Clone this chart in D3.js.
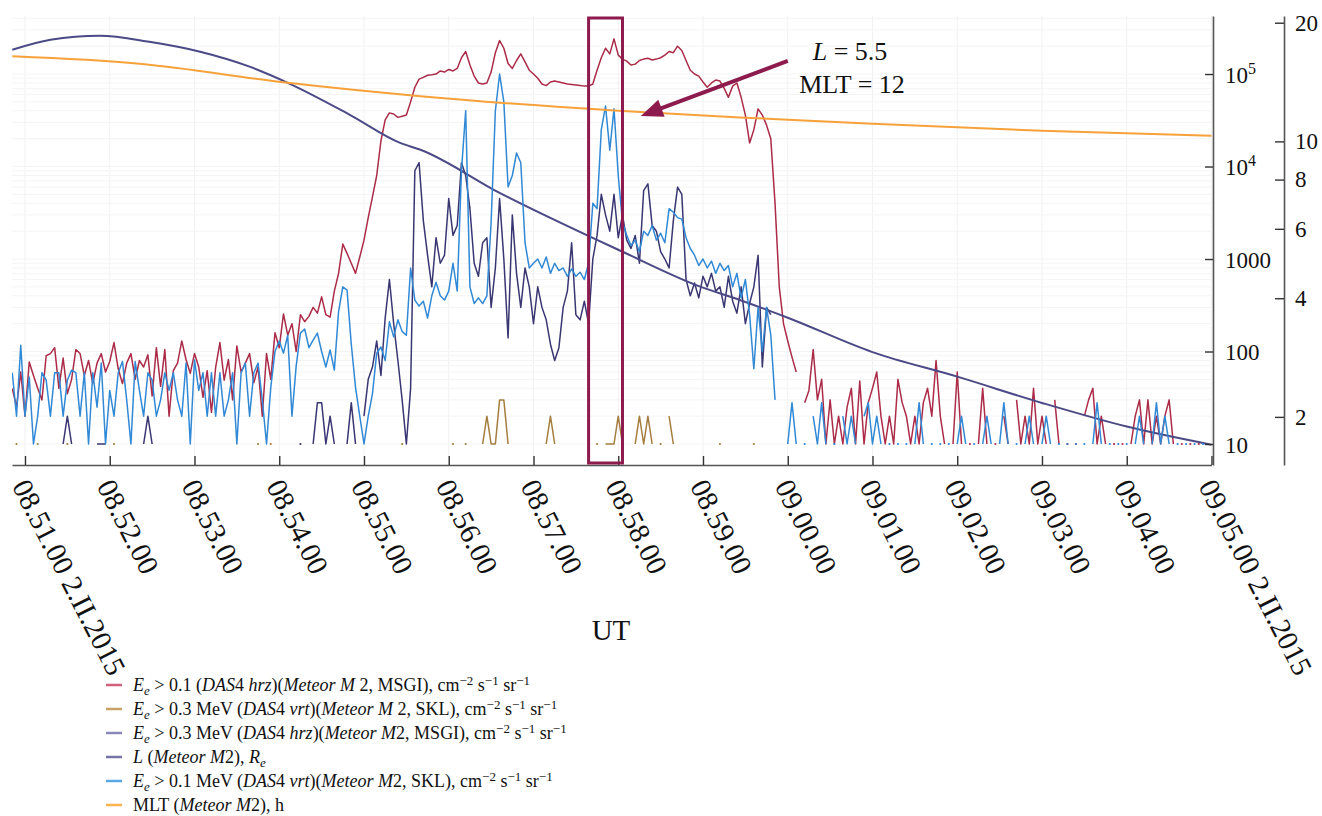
<!DOCTYPE html>
<html><head><meta charset="utf-8">
<script src="https://cdn.jsdelivr.net/npm/d3@7"></script>
<style>
body{margin:0;background:#fff}
svg{display:block}
text{font-family:"Liberation Serif","Times New Roman",serif;fill:#111}
</style>
</head><body><svg id="c" width="1322" height="816"></svg>
<script>
// time axis: seconds relative to 08:51:00 UT, 2.II.2015; samples every 3 s starting at -9 s
const T0 = -9, STEP = 3;

// Ee > 0.1 (DAS4 hrz)(Meteor M2, MSGI), cm-2 s-1 sr-1   (0 = no data / zero count)
const red = [
40,25,60,20,77,55,40,30,90,95,
110,40,85,35,50,105,95,55,80,45,
75,95,60,78,125,65,45,75,95,50,
80,68,92,33,110,42,105,20,62,75,
130,82,58,95,68,32,62,22,68,125,
49,82,30,115,60,75,95,46,68,20,
95,50,160,110,255,150,200,100,250,210,
240,300,260,390,250,235,450,700,1450,1150,
900,700,1050,1600,2800,4700,8000,19000,32000,38000,
37000,34000,35000,36000,50000,72000,88000,92000,97000,98000,
100000,108000,105000,112000,108000,115000,150000,175000,125000,95000,
80000,78000,80000,105000,170000,230000,190000,130000,115000,140000,
165000,135000,110000,100000,90000,78000,75000,82000,84000,82000,
80000,78000,77000,76000,75000,74000,74000,78000,110000,150000,
190000,165000,240000,160000,145000,138000,125000,128000,140000,145000,
148000,142000,145000,150000,160000,175000,170000,200000,180000,140000,
110000,100000,95000,82000,72000,80000,86000,84000,70000,56000,
74000,80000,56000,36000,18000,25000,42000,36000,28000,20000,
4000,500,200,130,87,60,0,28,38,105,
30,50,10,30,10,20,10,25,40,10,
48,10,28,40,60,20,10,20,10,50,
28,20,10,20,10,28,40,20,80,20,
10,0,10,60,10,0,10,0,10,40,
10,0,10,0,20,10,0,30,10,20,
10,40,10,20,10,0,30,10,0,10,
0,10,0,20,30,40,10,20,10,0,
10,0,10,0,10,20,30,10,30,10,
20,10,20,30,10,0,10,0,10,0,
10,0,10,0];

// Ee > 0.3 MeV (DAS4 vrt)(Meteor M2, SKL)
const brown = [
0,10,0,0,0,0,10,0,0,0,
0,0,0,10,0,0,0,0,0,0,
0,0,0,0,10,0,0,0,0,0,
0,0,0,0,0,0,0,0,0,0,
0,0,0,0,0,0,0,0,0,0,
0,0,0,0,0,0,0,0,10,0,
0,10,0,0,0,0,0,0,0,0,
0,0,0,0,0,0,0,0,0,0,
0,0,0,0,0,0,0,0,0,0,
0,0,10,0,0,0,0,0,0,0,
0,0,0,0,10,0,0,10,0,0,
0,10,20,10,10,30,30,10,0,0,
0,0,0,0,0,0,10,20,10,0,
0,0,0,0,0,0,0,0,10,0,
10,10,10,20,10,0,0,10,20,10,
20,10,0,10,0,20,10,0,0,0,
0,0,0,0,0,0,0,10,0,0,
0,0,0,0,0,10];

// Ee > 0.3 MeV (DAS4 hrz)(Meteor M2, MSGI)
const navy = [
0,0,0,0,0,0,0,0,0,0,
0,0,10,20,10,0,0,0,0,0,
10,10,10,0,0,0,0,0,0,0,
0,10,20,10,0,0,0,0,0,0,
0,0,0,0,0,0,0,0,0,0,
0,0,0,0,0,0,0,0,0,0,
0,0,0,0,0,0,0,0,10,0,
0,10,28,28,10,20,10,0,0,10,
28,10,0,20,50,68,130,55,230,600,
200,80,30,10,40,9000,11000,2600,1100,500,
1700,900,1100,4500,1800,2300,11000,8000,3500,900,
650,1500,1700,300,800,4500,1000,140,3000,700,
300,800,500,200,500,300,220,120,80,110,
300,450,1500,250,220,350,200,1000,1800,5000,
3000,2000,5000,1700,3000,1600,1300,1800,900,5500,
6500,2300,2000,1200,1000,800,2600,6000,5000,600,
400,550,380,650,500,700,450,500,300,650,
350,260,500,200,330,500,1100,68,300,250];

// Ee > 0.1 MeV (DAS4 vrt)(Meteor M2, SKL)
const blue = [
59,20,117,20,53,10,20,59,49,20,
59,59,20,49,63,59,20,59,10,59,
25,75,10,38,20,59,78,30,10,78,
38,20,59,49,20,30,59,38,59,30,
20,75,10,81,38,59,20,59,20,59,
20,30,59,10,59,75,20,59,75,30,
10,41,100,130,96,150,20,70,158,175,
110,133,158,100,68,104,63,270,500,460,
120,41,20,10,20,35,96,112,80,210,
144,220,165,150,800,360,310,350,230,400,
560,400,360,450,900,450,9000,40000,500,330,
380,330,400,2500,40000,100000,50000,6000,8000,14000,
11000,1500,800,900,1000,800,1050,700,900,750,
800,650,780,650,720,600,900,4000,3500,25000,
45000,15000,42000,8000,2500,1800,1400,1600,1200,2000,
1800,2300,1600,1900,1500,3500,3200,2800,2700,1700,
1300,1100,850,1000,800,950,700,900,750,850,
500,700,380,600,250,65,300,100,300,150,
30,0,0,10,28,10,0,10,0,20,
10,28,10,0,10,0,20,10,20,10,
0,20,28,10,20,10,0,10,0,10,
0,10,0,10,28,10,0,10,0,10,
0,10,0,10,20,10,0,10,0,10,
20,10,0,10,28,10,0,10,0,10,
20,10,0,10,20,10,0,10,0,10,
0,10,0,10,0,10,28,10,0,10,
0,10,0,10,0,10,20,10,0,10,
28,10,20,10,0,10,0,10,0,10,
0,10,0,0];

// L (Meteor M2), Re
const lSec = [-9,18,53,88,124,159,186,230,266,280,336,400,420,478,506,540,600,660,720,780,840];
const lVal = [17.08,18.11,18.54,17.89,16.88,15.47,14.08,11.68,9.9,9.52,7.40,5.73,5.31,4.28,3.96,3.57,2.92,2.53,2.17,1.89,1.70];

// MLT (Meteor M2), h
const mltSec = [-9,81,186,280,420,506,600,720,840];
const mltVal = [16.43,15.74,14.08,13.02,11.96,11.5,11.08,10.64,10.33];

const xTickSec = [0,60,120,180,240,300,360,420,480,540,600,660,720,780,840];
const xTickLabels = ["08.51.00 2.II.2015","08.52.00","08.53.00","08.54.00","08.55.00","08.56.00","08.57.00",
  "08.58.00","08.59.00","09.00.00","09.01.00","09.02.00","09.03.00","09.04.00","09.05.00 2.II.2015"];
const countTicks = [10,100,1000,1e4,1e5];
const lTicks = [2,4,6,8,10,20];
const markSec = [399,423];          // highlighted interval
const arrowFrom = [540,16.0], arrowTo = [436,11.6];   // (s, L/MLT units)

const svg = d3.select("#c");
const x = d3.scaleLinear().domain([-9.2,840]).range([12,1211.5]);
const yC = d3.scaleLog().domain([5.93,4.24e5]).range([465,16]);
const yL = d3.scaleLog().domain([1.51,20.8]).range([465,16]);

// faint grid
const grid = svg.append("g");
grid.selectAll("line.v").data(xTickSec).join("line")
  .attr("x1",d=>x(d)).attr("x2",d=>x(d)).attr("y1",16).attr("y2",465)
  .attr("stroke","#f1f1f1").attr("stroke-width",1);
grid.selectAll("line.h").data(yC.ticks().filter(v=>v>=10)).join("line")
  .attr("x1",12).attr("x2",1212).attr("y1",d=>yC(d)).attr("y2",d=>yC(d))
  .attr("stroke","#f4f4f4").attr("stroke-width",1);

svg.append("defs").append("clipPath").attr("id","clip")
  .append("rect").attr("x",12).attr("y",14).attr("width",1201).attr("height",452);

const plot = svg.append("g").attr("clip-path","url(#clip)");
const line = d3.line().defined(d=>d.v>0).x(d=>x(d.t)).y(d=>yC(d.v));
function drawSeries(arr,color,w){
  const pts = arr.map((v,i)=>({t:T0+STEP*i,v}));
  plot.append("path").datum(pts).attr("d",line).attr("fill","none")
    .attr("stroke",color).attr("stroke-width",w).attr("stroke-linejoin","round");
  const iso = pts.filter((d,i)=>d.v>0 && !(pts[i-1]&&pts[i-1].v>0) && !(pts[i+1]&&pts[i+1].v>0));
  plot.append("g").selectAll("circle").data(iso).join("circle")
    .attr("cx",d=>x(d.t)).attr("cy",d=>yC(d.v)).attr("r",1.1).attr("fill",color);
}
const C = {red:"#ab2b48",brown:"#a57d3e",navy:"#393672",L:"#4b4a86",blue:"#3189d6",mlt:"#f7a13a"};

drawSeries(red,C.red,1.5);
drawSeries(brown,C.brown,1.5);
drawSeries(navy,C.navy,1.5);
const lLine = d3.line().curve(d3.curveMonotoneX).x(d=>x(d[0])).y(d=>yL(d[1]));
plot.append("path").datum(lSec.map((s,i)=>[s,lVal[i]])).attr("d",lLine)
  .attr("fill","none").attr("stroke",C.L).attr("stroke-width",2);
drawSeries(blue,C.blue,1.5);
plot.append("path").datum(mltSec.map((s,i)=>[s,mltVal[i]])).attr("d",lLine)
  .attr("fill","none").attr("stroke",C.mlt).attr("stroke-width",2);

// x axis
const axX = d3.axisBottom(x).tickValues(xTickSec).tickSizeInner(-9).tickSizeOuter(0).tickFormat("");
const gX = svg.append("g").attr("transform","translate(0,465)").call(axX);
gX.select(".domain").attr("stroke","#555").attr("stroke-width",1.6);
gX.selectAll(".tick line").attr("stroke","#333").attr("stroke-width",1.4);
gX.selectAll(".tick").append("text")
  .attr("transform","translate(-14,21) rotate(63)")
  .attr("text-anchor","start").attr("fill","#111").attr("font-size",29)
  .style("font-family",'"Liberation Serif",serif')
  .text((d,i)=>xTickLabels[i]);
svg.append("text").attr("x",611).attr("y",640).attr("text-anchor","middle")
  .attr("font-size",29).text("UT");

// count axis (log)
const axC = d3.axisRight(yC).tickValues(countTicks).tickSizeInner(-8).tickSizeOuter(0).tickFormat("");
const gC = svg.append("g").attr("transform","translate(1213,0)").call(axC);
gC.select(".domain").attr("stroke","#555").attr("stroke-width",1.6);
gC.selectAll(".tick line").attr("stroke","#333").attr("stroke-width",1.4);
gC.selectAll(".tick").each(function(d){
  const t = d3.select(this).append("text").attr("x",12).attr("dy","0.35em")
    .attr("font-size",23).attr("fill","#111").style("font-family",'"Liberation Serif",serif');
  const e = Math.round(Math.log10(d));
  if (e >= 4){ t.append("tspan").text("10"); t.append("tspan").attr("dy",-9).attr("font-size",16).text(e); }
  else t.text(String(d));
});

// L / MLT axis
const axL = d3.axisRight(yL).tickValues(lTicks).tickSizeInner(-9).tickSizeOuter(0).tickFormat(d=>d);
const gL = svg.append("g").attr("transform","translate(1284,0)").call(axL);
gL.select(".domain").attr("stroke","#555").attr("stroke-width",1.6);
gL.selectAll(".tick line").attr("stroke","#333").attr("stroke-width",1.4);
gL.selectAll(".tick text").attr("x",11).attr("font-size",23).attr("fill","#111")
  .style("font-family",'"Liberation Serif",serif');

// highlight box and arrow
const MC = "#8d1b4e";
svg.append("rect").attr("x",x(markSec[0])).attr("y",18).attr("width",x(markSec[1])-x(markSec[0]))
  .attr("height",445).attr("fill","none").attr("stroke",MC).attr("stroke-width",3);
{
  const x1=x(arrowFrom[0]), y1=yL(arrowFrom[1]), x2=x(arrowTo[0]), y2=yL(arrowTo[1]);
  const dx=x2-x1, dy=y2-y1, len=Math.hypot(dx,dy), ux=dx/len, uy=dy/len;
  const hl=22, hw=9;
  const bx=x2-ux*hl, by=y2-uy*hl;
  svg.append("line").attr("x1",x1).attr("y1",y1).attr("x2",bx+ux*2).attr("y2",by+uy*2)
    .attr("stroke",MC).attr("stroke-width",4);
  svg.append("path").attr("d",`M${x2},${y2}L${bx-uy*hw},${by+ux*hw}L${bx+uy*hw},${by-ux*hw}Z`).attr("fill",MC);
}
const ann = svg.append("text").attr("x",850).attr("y",60).attr("text-anchor","middle").attr("font-size",26);
ann.append("tspan").attr("font-style","italic").text("L");
ann.append("tspan").text(" = 5.5");
svg.append("text").attr("x",852).attr("y",93).attr("text-anchor","middle").attr("font-size",26).text("MLT = 12");

// legend
const legendColors = ["#d0607c","#c9a268","#8a88b8","#7674a6","#5aa9e4","#f8b24e"];
const legendRows = [
  [["E","i"],["e","isub"],[" > 0.1 ("],["DAS","i"],["4 "],["hrz","i"],[")("],["Meteor M","i"],[" 2, MSGI), cm"],["−2","sup"],[" s"],["−1","sup"],[" sr"],["−1","sup"]],
  [["E","i"],["e","isub"],[" > 0.3 MeV ("],["DAS","i"],["4 "],["vrt","i"],[")("],["Meteor M","i"],[" 2, SKL), cm"],["−2","sup"],[" s"],["−1","sup"],[" sr"],["−1","sup"]],
  [["E","i"],["e","isub"],[" > 0.3 MeV ("],["DAS","i"],["4 "],["hrz","i"],[")("],["Meteor M","i"],["2, MSGI), cm"],["−2","sup"],[" s"],["−1","sup"],[" sr"],["−1","sup"]],
  [["L","i"],[" ("],["Meteor M","i"],["2), "],["R","i"],["e","isub"]],
  [["E","i"],["e","isub"],[" > 0.1 MeV ("],["DAS","i"],["4 "],["vrt","i"],[")("],["Meteor M","i"],["2, SKL), cm"],["−2","sup"],[" s"],["−1","sup"],[" sr"],["−1","sup"]],
  [["MLT ("],["Meteor M","i"],["2), h"]]
];
const lg = svg.append("g");
legendRows.forEach((parts,r)=>{
  const cy = 685 + r*24;
  lg.append("line").attr("x1",106).attr("x2",122).attr("y1",cy).attr("y2",cy)
    .attr("stroke",legendColors[r]).attr("stroke-width",2.5);
  const t = lg.append("text").attr("x",133).attr("y",cy+6).attr("font-size",18);
  let shift = 0;
  parts.forEach(([s,st])=>{
    st = st||"";
    const target = st.includes("sup") ? -6 : st.includes("sub") ? 4 : 0;
    const sp = t.append("tspan").attr("dy",target-shift).text(s);
    shift = target;
    if (st.includes("i")) sp.attr("font-style","italic");
    if (target!==0) sp.attr("font-size",13);
  });
});
</script>
</body></html>
